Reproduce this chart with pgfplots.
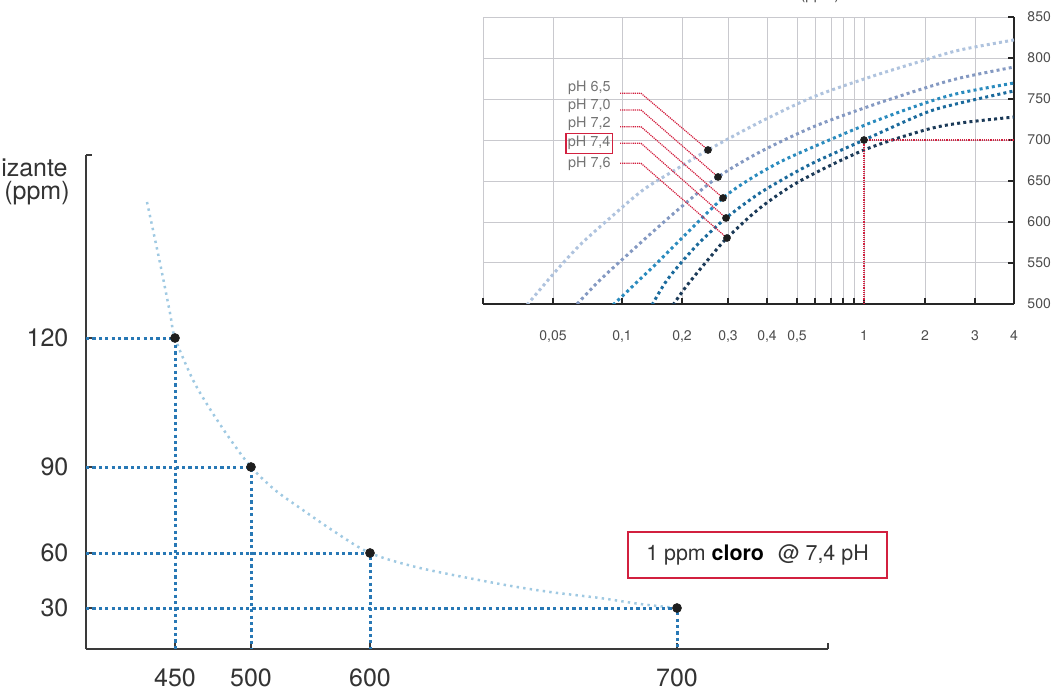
\documentclass[border=0pt]{standalone}
\usepackage{pgfplots}
\pgfplotsset{compat=1.18}
\usepackage{fontspec}
\setmainfont{TeX Gyre Heros}
\definecolor{axisgray}{HTML}{3A3A3A}
\definecolor{lblgray}{HTML}{333333}
\definecolor{mainblue}{HTML}{2878B5}
\definecolor{curveblue}{HTML}{9FC9E2}
\definecolor{cA}{HTML}{AFC3DE}
\definecolor{cB}{HTML}{8499C2}
\definecolor{cC}{HTML}{2A8BBE}
\definecolor{cD}{HTML}{1B6A9C}
\definecolor{cE}{HTML}{1B3A58}
\definecolor{rred}{HTML}{D2203F}
\definecolor{gridgray}{HTML}{C9C9CE}
\definecolor{dotblack}{HTML}{1E1E1E}
\begin{document}
\begin{tikzpicture}
\path[use as bounding box, clip] (0,0) rectangle (529pt,345.5pt);
% ---------------- main chart ----------------
\begin{axis}[
  at={(43pt,21pt)}, anchor=south west,
  scale only axis, width=371pt, height=247pt,
  xmin=86, xmax=828, ymin=42, ymax=536,
  axis x line=bottom, axis y line=left,
  axis line style={-, draw=axisgray, line width=0.8pt},
  tick align=inside, major tick length=3pt,
  tick style={draw=axisgray, line width=0.8pt},
  xtick={175,251,370,677,828}, xticklabels={450,500,600,700,{}},
  ytick={83,138,224,353,536}, yticklabels={30,60,90,120,{}},
  ticklabel style={font=\fontsize{12.5}{14}\selectfont, text=lblgray},
  xticklabel style={yshift=-6.4pt},
  yticklabel style={xshift=-5.3pt},
  /pgf/number format/assume math mode=true,
]
\addplot[curveblue, line width=1.25pt, dash pattern=on 1.2pt off 2.1pt, smooth] coordinates {
 (147,489) (160,428) (170,378) (175,353) (193,311) (210,282) (230,252) (251,224)
 (275,201) (300,183) (335,159) (370,138) (420,123) (500,107) (550,99) (600,93) (640,87) (677,83)};
\addplot[mainblue, line width=1.5pt, dash pattern=on 1.6pt off 1.6pt] coordinates {(86,353) (175,353) (175,42)};
\addplot[mainblue, line width=1.5pt, dash pattern=on 1.6pt off 1.6pt] coordinates {(86,224) (251,224) (251,42)};
\addplot[mainblue, line width=1.5pt, dash pattern=on 1.6pt off 1.6pt] coordinates {(86,138) (370,138) (370,42)};
\addplot[mainblue, line width=1.5pt, dash pattern=on 1.6pt off 1.6pt] coordinates {(86,83) (677,83) (677,42)};
\addplot[only marks, mark=*, mark size=2.2pt, dotblack] coordinates {(175,353) (251,224) (370,138) (677,83)};
\end{axis}
% ---------------- inset chart ----------------
\begin{axis}[
  at={(241.5pt,193.5pt)}, anchor=south west,
  scale only axis, width=265.5pt, height=143.5pt,
  xmin=483, xmax=1014, ymin=500, ymax=850,
  axis x line=bottom, axis y line=right,
  axis line style={-, draw=black!85, line width=0.8pt},
  tick align=inside, major tick length=3pt,
  tick style={draw=black!85, line width=0.8pt},
  xtick={483,553,622,682,728,767,797,815,831,843,854,864,925,975,1014},
  xticklabels={{},{0,05},{0,1},{0,2},{0,3},{0,4},{0,5},{},{},{},{},1,2,3,4},
  ytick={500,550,600,650,700,750,800,850},
  yticklabels={500,550,600,650,700,750,800,850},
  grid=major, major grid style={draw=gridgray, line width=0.5pt},
  ticklabel style={font=\fontsize{7}{8}\selectfont, text=black!70},
  xticklabel style={yshift=-10pt},
  yticklabel style={xshift=3.2pt},
  /pgf/number format/assume math mode=true,
]
\addplot[cA, line width=1.5pt, dash pattern=on 1.5pt off 1.6pt, smooth] coordinates {
 (527,498.8) (555,539.0) (580,572.0) (610,604.9) (643,639.0) (675,663.4) (708,687.8)
 (760,721.9) (813,752.4) (870,776.8) (925,797.6) (960,809.8) (1014,822.0)};
\addplot[cB, line width=1.5pt, dash pattern=on 1.5pt off 1.6pt, smooth] coordinates {
 (577,500.0) (600,529.3) (625,557.3) (647,581.7) (680,617.1) (718,654.9) (760,685.4)
 (813,715.9) (870,741.5) (925,763.4) (960,775.6) (1014,789.0)};
\addplot[cC, line width=1.5pt, dash pattern=on 1.5pt off 1.6pt, smooth] coordinates {
 (613,498.8) (635,524.4) (657,550.0) (690,590.3) (723,629.3) (750,652.4) (780,673.2)
 (813,691.4) (870,720.7) (925,745.1) (960,757.3) (1014,769.5)};
\addplot[cD, line width=1.5pt, dash pattern=on 1.5pt off 1.6pt, smooth] coordinates {
 (652,498.8) (665,525.6) (680,548.8) (700,575.6) (726,604.9) (757,633.0) (780,650.0)
 (813,672.0) (864,700.0) (925,733.0) (960,745.1) (1014,759.8)};
\addplot[cE, line width=1.5pt, dash pattern=on 1.5pt off 1.6pt, smooth] coordinates {
 (673,498.8) (685,519.5) (697,537.8) (712,559.8) (727,580.5) (760,617.1) (800,650.0)
 (864,687.8) (925,712.2) (960,720.7) (1014,728.0)};
% red guides
\addplot[rred, line width=0.65pt, dash pattern=on 0.6pt off 0.5pt] coordinates {(864,500) (864,700) (1014,700)};
\addplot[rred, line width=0.6pt, dash pattern=on 0.6pt off 0.45pt] coordinates {(620,757.0) (641,757.0) (708,687.8)};
\addplot[rred, line width=0.6pt, dash pattern=on 0.6pt off 0.45pt] coordinates {(620,736.6) (641,736.6) (718,654.9)};
\addplot[rred, line width=0.6pt, dash pattern=on 0.6pt off 0.45pt] coordinates {(620,716.2) (641,716.2) (723,629.3)};
\addplot[rred, line width=0.6pt, dash pattern=on 0.6pt off 0.45pt] coordinates {(620,696.0) (641,696.0) (726,604.9)};
\addplot[rred, line width=0.6pt, dash pattern=on 0.6pt off 0.45pt] coordinates {(620,671.6) (641,671.6) (727,580.5)};
\addplot[only marks, mark=*, mark size=1.7pt, dotblack] coordinates {
 (708,687.8) (718,654.9) (723,629.3) (726,604.9) (727,580.5) (864,700)};
\begin{scope}[every node/.style={anchor=east, font=\fontsize{7.2}{8}\selectfont, text=black!55, inner xsep=1pt, inner ysep=1.6pt}]
\node at (axis cs:613,764.0) {pH 6,5};
\node at (axis cs:613,741.5) {pH 7,0};
\node at (axis cs:613,719.5) {pH 7,2};
\node[draw=rred, line width=0.65pt] at (axis cs:613,696.0) {pH 7,4};
\node at (axis cs:613,671.3) {pH 7,6};
\end{scope}
\end{axis}
% ---------------- texts ----------------
\node[anchor=base east, font=\fontsize{12.5}{14}\selectfont, text=lblgray, inner sep=0pt] at (34pt,257pt) {izante};
\node[anchor=base east, font=\fontsize{12.5}{14}\selectfont, text=lblgray, inner sep=0pt] at (35pt,245.5pt) {(ppm)};
\node[anchor=base east, font=\fontsize{7.5}{9}\selectfont, text=black!70, inner sep=0pt] at (420pt,345.5pt) {Cloro libre (ppm)};
\node[draw=rred, line width=0.6pt, minimum width=129.5pt, minimum height=23pt, font=\fontsize{10.7}{12}\selectfont, text=lblgray] at (378.75pt,68pt) {1 ppm \textcolor{black}{\textbf{cloro}}\hspace{4pt} @ 7,4 pH};
\end{tikzpicture}
\end{document}
